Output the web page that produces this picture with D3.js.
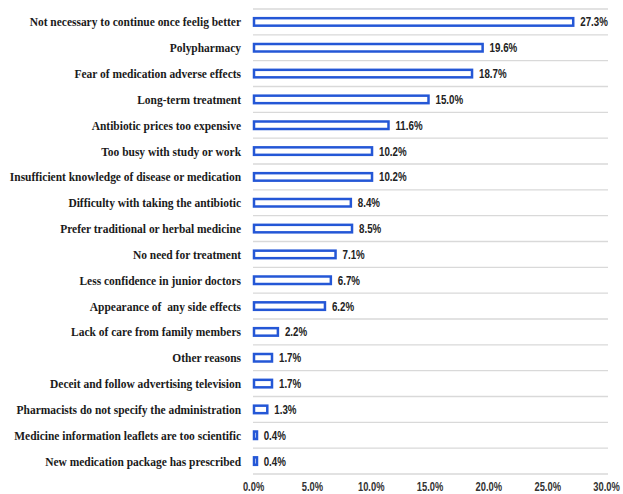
<!DOCTYPE html>
<html>
<head>
<meta charset="utf-8">
<script src="https://cdn.jsdelivr.net/npm/d3@7/dist/d3.min.js"></script>
<style>
  html, body { margin: 0; padding: 0; background: #fff; }
  svg { display: block; }
  text { white-space: pre; }
</style>
</head>
<body>
<svg id="chart" width="623" height="494"></svg>
<script>
// Reasons for non-adherence (percent of respondents)
const reasons = [
  "Not necessary to continue once feelig better",
  "Polypharmacy",
  "Fear of medication adverse effects",
  "Long-term treatment",
  "Antibiotic prices too expensive",
  "Too busy with study or work",
  "Insufficient knowledge of disease or medication",
  "Difficulty with taking the antibiotic",
  "Prefer traditional or herbal medicine",
  "No need for treatment",
  "Less confidence in junior doctors",
  "Appearance of  any side effects",
  "Lack of care from family members",
  "Other reasons",
  "Deceit and follow advertising television",
  "Pharmacists do not specify the administration",
  "Medicine information leaflets are too scientific",
  "New medication package has prescribed"
];
const percents = [27.3, 19.6, 18.7, 15.0, 11.6, 10.2, 10.2, 8.4, 8.5, 7.1, 6.7, 6.2, 2.2, 1.7, 1.7, 1.3, 0.4, 0.4];
const tickValues = [0, 5, 10, 15, 20, 25, 30];

const svg = d3.select("#chart");
const margin = { left: 253, right: 17, top: 9, bottom: 20 };
const W = 623, H = 494;

const x = d3.scaleLinear().domain([0, 30]).range([margin.left, W - margin.right]);
const y = d3.scaleBand().domain(reasons).range([margin.top, 474]).paddingInner(0).paddingOuter(0);

// horizontal separators between categories
const bounds = reasons.map(r => y(r)).concat([y(reasons[reasons.length - 1]) + y.bandwidth()]);
svg.append("g").selectAll("line").data(bounds).join("line")
  .attr("x1", x(0)).attr("x2", x(30) + 2)
  .attr("y1", d => d).attr("y2", d => d)
  .attr("stroke", "#d9d9d9").attr("stroke-width", 1.3);

// hollow bars
const barH = 7.5;
svg.append("g").selectAll("rect").data(reasons).join("rect")
  .attr("x", x(0) + 1)
  .attr("y", d => y(d) + y.bandwidth() / 2 - barH / 2)
  .attr("width", (d, i) => Math.max(x(percents[i]) - x(0) - 2, 3))
  .attr("height", barH)
  .attr("fill", "#ffffff")
  .attr("stroke", "#2457d6")
  .attr("stroke-width", 2.5);

// value labels
svg.append("g").selectAll("text").data(reasons).join("text")
  .attr("x", (d, i) => Math.max(x(percents[i]), x(0) + 4) + 6)
  .attr("y", d => y(d) + y.bandwidth() / 2 + 4.5)
  .attr("font-family", "'Liberation Sans', Arial, sans-serif")
  .attr("font-weight", "bold")
  .attr("font-size", 12.5)
  .attr("fill", "#222")
  .text((d, i) => percents[i].toFixed(1) + "%")
  .each(function () { squeeze(this, 0.78); });

// category labels
svg.append("g").selectAll("text").data(reasons).join("text")
  .attr("x", 241)
  .attr("y", d => y(d) + y.bandwidth() / 2 + 4.5)
  .attr("text-anchor", "end")
  .attr("font-family", "'Liberation Serif', 'Times New Roman', serif")
  .attr("font-weight", "bold")
  .attr("font-size", 13.5)
  .attr("fill", "#1a1a1a")
  .text(d => d)
  .each(function () { squeeze(this, 0.85); });

// x axis tick labels
const axis = d3.axisBottom(x).tickValues(tickValues).tickSize(0).tickFormat(d => d.toFixed(1) + "%");
const gx = svg.append("g").attr("transform", `translate(0, ${H - 15})`).call(axis);
gx.select(".domain").remove();
gx.selectAll("text")
  .attr("font-family", "'Liberation Sans', Arial, sans-serif")
  .attr("font-weight", "bold")
  .attr("font-size", 12)
  .attr("fill", "#333")
  .each(function () { squeeze(this, 0.78); });

// horizontal condensing of a text element around its anchor point
function squeeze(el, k) {
  const t = d3.select(el);
  const anchor = t.attr("text-anchor") || getComputedStyle(el).textAnchor;
  const bb = el.getBBox();
  let ax;
  if (anchor === "end") ax = bb.x + bb.width;
  else if (anchor === "middle") ax = bb.x + bb.width / 2;
  else ax = bb.x;
  const prev = t.attr("transform") || "";
  t.attr("transform", `${prev} translate(${ax},0) scale(${k},1) translate(${-ax},0)`);
}
</script>
</body>
</html>
